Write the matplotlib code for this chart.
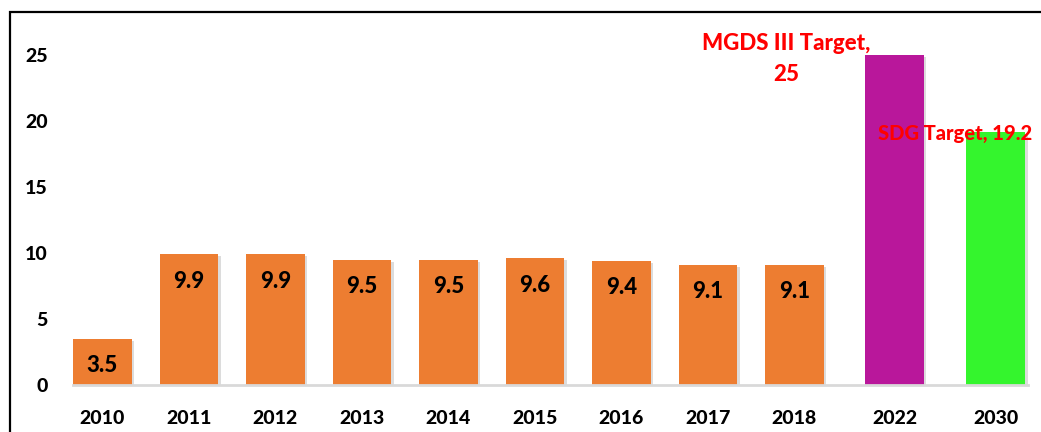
import matplotlib
matplotlib.use("Agg")
import matplotlib.pyplot as plt
import matplotlib.patches as mpatches
import matplotlib.patheffects as pe

plt.rcParams['font.family'] = ['Lato', 'DejaVu Sans']

# ---- data ----
years = ["2010", "2011", "2012", "2013", "2014", "2015", "2016", "2017", "2018", "2022", "2030"]
values = [3.5, 9.9, 9.9, 9.5, 9.5, 9.6, 9.4, 9.1, 9.1, 25, 19.2]
colors = ["#ED7D31"] * 9 + ["#B9179B", "#34F52D"]
target_labels = {9: "MGDS III Target,\n25", 10: "SDG Target, 19.2"}
# category slots (targets sit slightly further apart, as in the original)
positions = [0, 1, 2, 3, 4, 5, 6, 7, 8, 9.156, 10.325]

W, H = 1041, 432
fig = plt.figure(figsize=(W / 100, H / 100), dpi=100)
ax_left, ax_right = 73, 1028
ax_bottom, ax_top = 385, 14
ax = fig.add_axes([ax_left / W, (H - ax_bottom) / H, (ax_right - ax_left) / W, (ax_bottom - ax_top) / H])

shadow = [pe.SimplePatchShadow(offset=(2, -1.5), shadow_rgbFace=(0.55, 0.55, 0.55), alpha=0.3), pe.Normal()]
bars = ax.bar(positions, values, width=0.675, color=colors, zorder=2)
for b in bars:
    b.set_path_effects(shadow)

ax.set_xlim(-0.341, 10.70)
ax.set_ylim(0, 28.1)
ax.set_yticks([0, 5, 10, 15, 20, 25])
ax.set_xticks(positions)
ax.set_xticklabels(years)

WEIGHT = "black"
for lbl in ax.get_xticklabels() + ax.get_yticklabels():
    lbl.set_fontweight(WEIGHT)
    lbl.set_fontsize(14)
    lbl.set_color("black")
ax.tick_params(axis="both", length=0)
ax.tick_params(axis="y", pad=18)
ax.tick_params(axis="x", pad=18)

for s in ["top", "right", "left"]:
    ax.spines[s].set_visible(False)
ax.spines["bottom"].set_color("#D9D9D9")
ax.spines["bottom"].set_linewidth(2)
ax.spines["bottom"].set_zorder(3)

# data labels for orange bars
for i, (p, v) in enumerate(zip(positions, values)):
    if i in target_labels:
        continue
    ax.annotate(f"{v:g}", xy=(p, v), xytext=(0, -27), textcoords="offset pixels",
                ha="center", va="center", fontsize=16, fontweight=WEIGHT, color="black", zorder=4)

# target labels
ax.annotate(target_labels[9], xy=(positions[9], values[9]), xytext=(-108, -4), textcoords="offset pixels",
            ha="center", va="center", fontsize=16, fontweight=WEIGHT, color="#FF0000",
            linespacing=1.6, zorder=5, annotation_clip=False)
ax.annotate(target_labels[10], xy=(positions[10], values[10]), xytext=(-118, -2), textcoords="offset pixels",
            ha="left", va="center", fontsize=14.5, fontweight=WEIGHT, color="#FF0000",
            zorder=5, annotation_clip=False)

# chart border (only top and left visible in the crop)
border = mpatches.Rectangle((10 / W, -0.5), 1.5, 1.5 - 12 / H, transform=fig.transFigure,
                            fill=False, edgecolor="black", linewidth=1.6, clip_on=False)
fig.patches.append(border)

fig.savefig("out.png", dpi=100)
